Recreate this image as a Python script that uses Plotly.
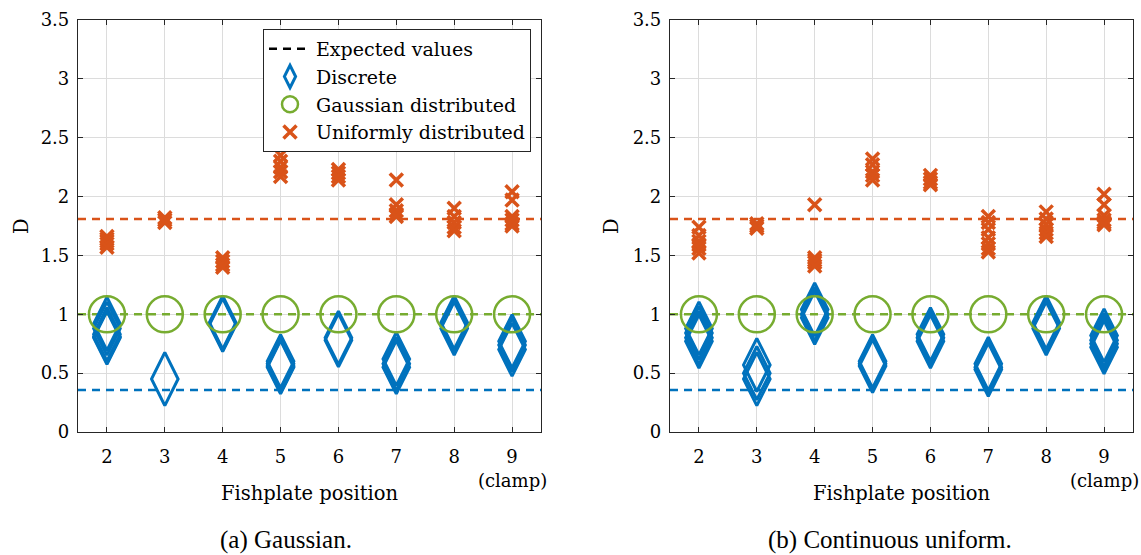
import numpy as np
import plotly.graph_objects as go

positions = [2, 3, 4, 5, 6, 7, 8, 9]
tick_labels = ["2", "3", "4", "5", "6", "7", "8", "9"]
clamp_label = "(clamp)"
y_ticks = [0, 0.5, 1, 1.5, 2, 2.5, 3, 3.5]

expected_uniform = 1.81
expected_gaussian = 1.0
expected_discrete = 0.357

# Panel (a) Gaussian
a_discrete = [[0.92, 0.88, 0.83, 0.81, 0.80], [0.45], [0.93, 0.92, 0.91],
              [0.60, 0.58, 0.56, 0.55], [0.80, 0.78], [0.62, 0.58, 0.55],
              [0.93, 0.90, 0.88], [0.77, 0.74, 0.70]]
a_gaussian = [[1.0], [1.0], [1.0], [1.0], [1.0], [1.0], [1.0], [1.0]]
a_uniform = [[1.66, 1.64, 1.62, 1.60, 1.57], [1.82, 1.80, 1.78], [1.48, 1.45, 1.42, 1.40],
             [2.35, 2.30, 2.25, 2.21, 2.17], [2.23, 2.20, 2.17, 2.14],
             [2.14, 1.93, 1.88, 1.85, 1.83], [1.90, 1.83, 1.78, 1.74, 1.71],
             [2.04, 1.97, 1.83, 1.80, 1.77, 1.75]]

# Panel (b) Continuous uniform
b_discrete = [[0.88, 0.84, 0.80, 0.77], [0.57, 0.50, 0.45], [1.04, 1.00, 0.97],
              [0.60, 0.58, 0.56], [0.83, 0.80, 0.77], [0.58, 0.55, 0.53],
              [0.93, 0.90, 0.88], [0.82, 0.78, 0.75, 0.72]]
b_gaussian = [[1.0], [1.0], [1.0], [1.0], [1.0], [1.0], [1.0], [1.0]]
b_uniform = [[1.74, 1.67, 1.62, 1.59, 1.56, 1.52], [1.77, 1.75, 1.73],
             [1.93, 1.48, 1.46, 1.44, 1.41], [2.32, 2.27, 2.21, 2.18, 2.14],
             [2.18, 2.15, 2.12, 2.10], [1.83, 1.78, 1.72, 1.65, 1.60, 1.56, 1.53],
             [1.87, 1.81, 1.76, 1.72, 1.69, 1.66], [2.02, 1.93, 1.84, 1.80, 1.78, 1.76]]

BLUE = "#0072BD"
GREEN = "#77AC30"
ORANGE = "#D95319"
AXC = "#262626"
FONT = "DejaVu Serif, serif"
CAP_FONT = "Liberation Serif, Times New Roman, serif"


def flatten(groups):
    xs, ys = [], []
    for p, vals in zip(positions, groups):
        xs += [p] * len(vals)
        ys += list(vals)
    return xs, ys


fig = go.Figure()

panels = [
    ("x", "y", a_discrete, a_gaussian, a_uniform, True),
    ("x2", "y2", b_discrete, b_gaussian, b_uniform, False),
]

x_range = [1.5, 9.5]
dash = "8px,6px"

for xa, ya, disc, gaus, unif, legend in panels:
    for val, col in [(expected_uniform, ORANGE), (expected_gaussian, GREEN), (expected_discrete, BLUE)]:
        fig.add_trace(go.Scatter(x=x_range, y=[val, val], mode="lines", xaxis=xa, yaxis=ya,
                                 line=dict(color=col, width=2.5, dash=dash),
                                 showlegend=False, hoverinfo="skip"))
    if legend:
        fig.add_trace(go.Scatter(x=[None], y=[None], mode="lines", xaxis=xa, yaxis=ya,
                                 name="Expected values",
                                 line=dict(color="black", width=2.5, dash=dash)))
    dx, dy = flatten(disc)
    fig.add_trace(go.Scatter(x=dx, y=dy, mode="markers", xaxis=xa, yaxis=ya, name="Discrete",
                             showlegend=legend,
                             marker=dict(symbol="diamond-tall-open", size=38, color=BLUE,
                                         line=dict(width=3, color=BLUE))))
    gx, gy = flatten(gaus)
    fig.add_trace(go.Scatter(x=gx, y=gy, mode="markers", xaxis=xa, yaxis=ya,
                             name="Gaussian distributed", showlegend=legend,
                             marker=dict(symbol="circle-open", size=36, color=GREEN,
                                         line=dict(width=2.5, color=GREEN))))
    ux, uy = flatten(unif)
    fig.add_trace(go.Scatter(x=ux, y=uy, mode="markers", xaxis=xa, yaxis=ya,
                             name="Uniformly distributed", showlegend=legend,
                             marker=dict(symbol="x-thin-open", size=13, color=ORANGE,
                                         line=dict(width=3.5, color=ORANGE))))

W, H = 1141, 555
ydom = [(H - 432) / H, (H - 20) / H]
xdom1 = [78 / W, 541 / W]
xdom2 = [670 / W, 1133 / W]

axis_common = dict(showline=True, linecolor=AXC, linewidth=1.2, mirror="ticks",
                   ticks="inside", ticklen=5, tickcolor=AXC, tickwidth=1,
                   showgrid=True, gridcolor="#DCDCDC", gridwidth=1, zeroline=False,
                   automargin=False,
                   tickfont=dict(family=FONT, size=18, color="black"))

xaxis_common = dict(axis_common, range=x_range, tickmode="array", tickvals=positions,
                    ticktext=tick_labels, ticklabelstandoff=8)
yaxis_common = dict(axis_common, range=[0, 3.5], tickmode="array", tickvals=y_ticks,
                    ticklabelstandoff=4)

fig.update_layout(
    width=W, height=H,
    margin=dict(l=0, r=0, t=0, b=0, pad=0, autoexpand=False),
    paper_bgcolor="white", plot_bgcolor="white",
    xaxis=dict(xaxis_common, domain=xdom1, anchor="y"),
    yaxis=dict(yaxis_common, domain=ydom, anchor="x"),
    xaxis2=dict(xaxis_common, domain=xdom2, anchor="y2"),
    yaxis2=dict(yaxis_common, domain=ydom, anchor="x2"),
    legend=dict(x=531 / W, y=(H - 29) / H, xanchor="right", yanchor="top",
                bgcolor="white", bordercolor=AXC, borderwidth=1,
                font=dict(family=FONT, size=19, color="black"),
                itemwidth=42, tracegroupgap=0),
    showlegend=True,
)

annotations = [
    dict(text="Fishplate position", x=(xdom1[0] + xdom1[1]) / 2, y=(H - 493) / H, size=19.5),
    dict(text="Fishplate position", x=(xdom2[0] + xdom2[1]) / 2, y=(H - 493) / H, size=19.5),
    dict(text="D", x=22 / W, y=(H - 226) / H, textangle=-90, size=19.5),
    dict(text="D", x=612 / W, y=(H - 226) / H, textangle=-90, size=19.5),
]
for a in annotations:
    size = a.pop("size", 18)
    fig.add_annotation(xref="paper", yref="paper", showarrow=False,
                       xanchor="center", yanchor="middle",
                       font=dict(family=FONT, size=size, color="black"), **a)

# sub-figure captions, anchored to the bottom edge so they stay inside
for text, xc in [("(a) Gaussian.", 286), ("(b) Continuous uniform.", 890)]:
    fig.add_annotation(xref="paper", yref="paper", showarrow=False, x=xc / W, y=0,
                       xanchor="center", yanchor="bottom", text=text, borderpad=0,
                       font=dict(family=CAP_FONT, size=25, color="black"))

# "(clamp)" sub-label under the last tick of each panel
for xa in ["x", "x2"]:
    fig.add_annotation(xref=xa, yref="paper", x=positions[-1], y=(H - 480) / H,
                       text=clamp_label, showarrow=False, xanchor="center", yanchor="middle",
                       font=dict(family=FONT, size=18, color="black"))

fig.write_html("out.html", post_script="document.body.style.margin='0px';",
               config={"displayModeBar": False})
